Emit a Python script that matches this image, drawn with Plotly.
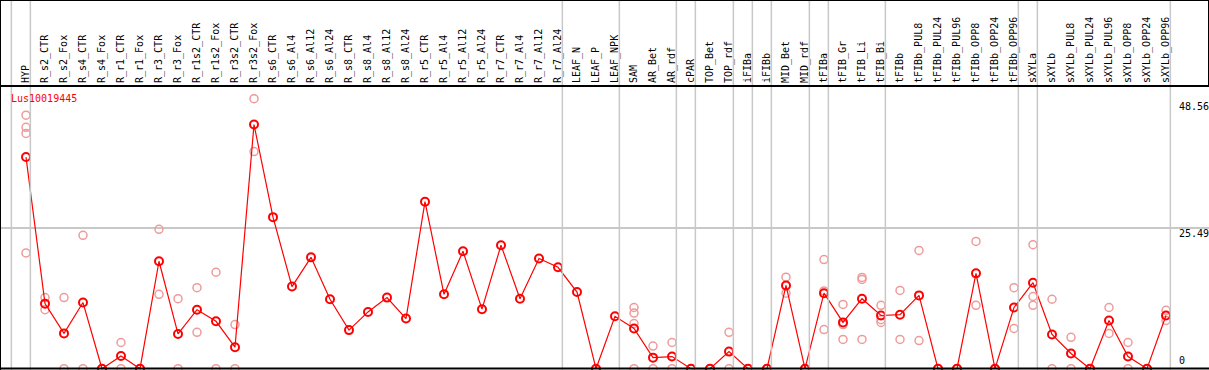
import plotly.graph_objects as go

CATEGORIES = ["HYP", "R_s2_CTR", "R_s2_Fox", "R_s4_CTR", "R_s4_Fox", "R_r1_CTR", "R_r1_Fox",
              "R_r3_CTR", "R_r3_Fox", "R_r1s2_CTR", "R_r1s2_Fox", "R_r3s2_CTR", "R_r3s2_Fox",
              "R_s6_CTR", "R_s6_Al4", "R_s6_Al12", "R_s6_Al24", "R_s8_CTR", "R_s8_Al4",
              "R_s8_Al12", "R_s8_Al24", "R_r5_CTR", "R_r5_Al4", "R_r5_Al12", "R_r5_Al24",
              "R_r7_CTR", "R_r7_Al4", "R_r7_Al12", "R_r7_Al24", "LEAF_N", "LEAF_P", "LEAF_NPK",
              "SAM", "AR_Bet", "AR_rdf", "cPAR", "TOP_Bet", "TOP_rdf", "iFIBa", "iFIBb",
              "MID_Bet", "MID_rdf", "tFIBa", "tFIB_Gr", "tFIB_Li", "tFIB_Bi", "tFIBb",
              "tFIBb_PUL8", "tFIBb_PUL24", "tFIBb_PUL96", "tFIBb_OPP8", "tFIBb_OPP24",
              "tFIBb_OPP96", "sXYLa", "sXYLb", "sXYLb_PUL8", "sXYLb_PUL24", "sXYLb_PUL96",
              "sXYLb_OPP8", "sXYLb_OPP24", "sXYLb_OPP96"]

MEANS = [38.4, 11.8, 6.4, 12.0, 0, 2.3, 0, 19.5, 6.3, 10.7, 8.6, 3.9, 44.3,
         27.5, 14.9, 20.2, 12.6, 7.0, 10.3, 12.9, 9.1, 30.3, 13.5, 21.3, 10.8,
         22.4, 12.7, 20.0, 18.4, 13.9, 0, 9.5, 7.3, 2.0, 2.2, 0, 0, 3.1, 0, 0,
         15.1, 0, 13.7, 8.4, 12.7, 9.65, 9.8, 13.3, 0, 0, 17.3, 0, 11.1,
         15.6, 6.2, 2.75, 0, 8.75, 2.2, 0, 9.65]

REPLICATES = [[46.0, 43.8, 42.7, 21.0], [12.9, 10.7], [12.9, 0], [24.2, 0], [0, 0],
              [4.75, 0], [0, 0], [25.3, 13.5], [12.7, 0], [14.7, 6.6], [17.5, 0],
              [8.0, 0], [49.0, 39.4],
              [], [], [], [], [], [], [], [], [], [], [], [], [], [], [], [], [], [], [],
              [11.1, 10.1, 8.2, 0], [4.1, 0], [4.75, 0], [0, 0], [0, 0], [6.6, 0],
              [0, 0], [0, 0], [16.6, 13.7], [0, 0], [19.8, 14.1, 7.1], [11.65, 8.0, 5.3],
              [16.55, 16.2, 5.3], [11.5, 8.9, 8.4], [14.2, 5.3], [21.45, 5.1], [0, 0],
              [0, 0], [23.1, 11.5], [0, 0], [14.7, 7.3], [22.5, 13.1, 11.5], [12.6, 0],
              [5.7, 0], [0, 0], [11.1, 6.4], [4.75, 0], [0, 0], [10.6, 8.75]]

GROUP_ENDS = [-1, 0, 28, 31, 34, 35, 37, 38, 39, 41, 42, 45, 52, 53, 60]
Y_TICKS = [0, 25.49, 48.56]
GENE = "Lus10019445"

W, H = 1209, 370
TOP = 86
MONO = "DejaVu Sans Mono"

idx = list(range(len(CATEGORIES)))
rx, ry = [], []
for i, reps in enumerate(REPLICATES):
    for v in reps:
        rx.append(i)
        ry.append(v)

fig = go.Figure()
fig.add_trace(go.Scatter(x=rx, y=ry, mode="markers",
                         marker=dict(symbol="circle-open", size=8, color="#f09a9a",
                                     line=dict(width=1.5, color="#f09a9a")),
                         hoverinfo="skip", showlegend=False))
fig.add_trace(go.Scatter(x=idx, y=MEANS, mode="lines+markers",
                         line=dict(color="#ff0000", width=1.2),
                         marker=dict(symbol="circle-open", size=8, color="#ff0000",
                                     line=dict(width=2, color="#ff0000")),
                         showlegend=False))

ph = H - TOP
top_paper = H / ph
shapes = []
for g in GROUP_ENDS:
    shapes.append(dict(type="line", xref="x", yref="paper", x0=g + 0.23, x1=g + 0.23,
                       y0=0, y1=top_paper, line=dict(color="#c8c8c8", width=1.5)))
black = dict(color="#000000", width=2)
shapes += [
    dict(type="line", xref="paper", yref="paper", x0=0, x1=1, y0=1, y1=1, line=black),
    dict(type="line", xref="paper", yref="paper", x0=0, x1=1, y0=top_paper, y1=top_paper, line=black),
    dict(type="line", xref="paper", yref="paper", x0=0, x1=0, y0=0, y1=top_paper, line=black),
    dict(type="line", xref="paper", yref="paper", x0=1, x1=1, y0=1, y1=top_paper, line=black),
    dict(type="line", xref="paper", yref="paper", x0=0, x1=1, y0=1.5 / ph, y1=1.5 / ph, line=black),
]

annotations = [dict(text=GENE, xref="paper", yref="paper", x=9 / W, y=(H - 91) / ph,
                    xanchor="left", yanchor="top", showarrow=False,
                    font=dict(family=MONO, size=10, color="#ff0000"))]
for t in Y_TICKS:
    lab = f"{t:g}"
    if t == 0:
        annotations.append(dict(text=lab, xref="paper", yref="y", x=1177 / W, y=t,
                                xanchor="left", yanchor="bottom", yshift=1, showarrow=False,
                                font=dict(family=MONO, size=10, color="#000000")))
    else:
        annotations.append(dict(text=lab, xref="paper", yref="y", x=1177 / W, y=t,
                                xanchor="left", yanchor="top", yshift=2, showarrow=False,
                                font=dict(family=MONO, size=10, color="#000000")))

x0 = -26 / 19
x1 = (W - 26) / 19
fig.update_layout(
    width=W, height=H,
    margin=dict(l=0, r=0, t=TOP, b=0, pad=0),
    paper_bgcolor="white", plot_bgcolor="white",
    shapes=shapes, annotations=annotations,
    xaxis=dict(range=[x0, x1], side="top", tickmode="array", tickvals=idx,
               ticktext=CATEGORIES, tickangle=-90, ticks="", showgrid=False,
               zeroline=False, showline=False, automargin=False, ticklabelstandoff=2,
               tickfont=dict(family=MONO, size=10, color="#000000")),
    yaxis=dict(range=[-0.24, 51.3], tickmode="array", tickvals=[Y_TICKS[1]],
               showticklabels=False, showgrid=True, gridcolor="#c8c8c8", gridwidth=1.5,
               zeroline=False, showline=False, ticks="", automargin=False),
)
fig.write_html("out.html", config={"displayModeBar": False},
               post_script="document.body.style.margin='0';document.body.style.padding='0';"
                           "document.body.style.overflow='hidden';")
